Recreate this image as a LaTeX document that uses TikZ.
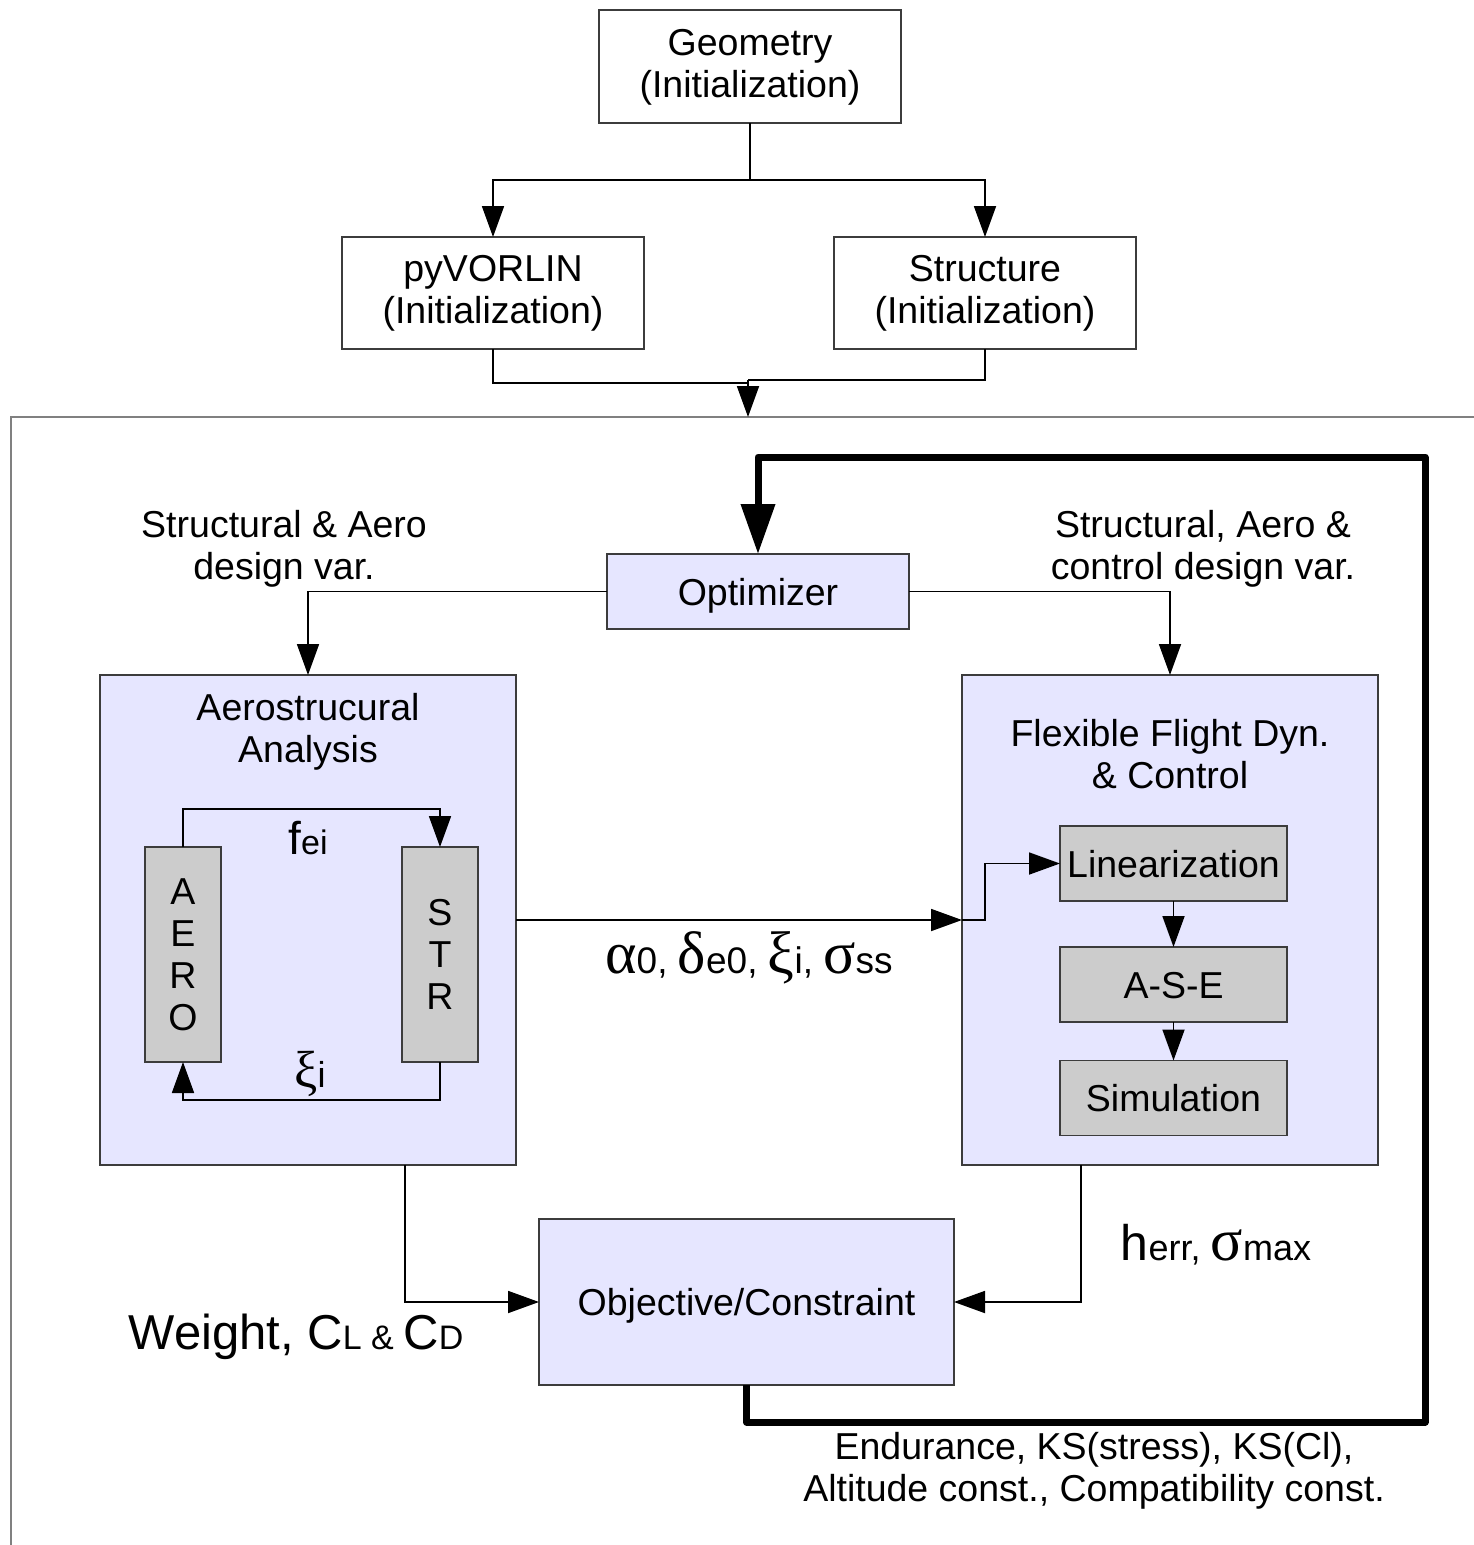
\documentclass[tikz,border=0pt]{standalone}
\usepackage{fontspec}
\setmainfont{Liberation Sans}
\newfontfamily\grk{Liberation Serif}
\usetikzlibrary{arrows.meta}
\definecolor{lav}{RGB}{230,230,255}
\definecolor{gbox}{RGB}{204,204,204}
\definecolor{edge}{RGB}{60,60,60}
\newcommand\fz[1]{\fontsize{#1}{#1}\selectfont}
\begin{document}
\begin{tikzpicture}[x=1pt,y=-1pt,
  every node/.style={font=\fontsize{37.5}{42}\selectfont, inner sep=0pt, outer sep=0pt},
  wbox/.style={draw=edge, line width=1.5pt, fill=white, align=center},
  lbox/.style={draw=edge, line width=1.5pt, fill=lav, align=center},
  gbx/.style={draw=edge, line width=1.5pt, fill=gbox, align=center},
  oneline/.style={text height=27pt, text depth=0pt},
  twoline/.style={text height=61pt, text depth=0pt},
  conn/.style={line width=1.8pt, black},
  arr/.style={conn, -{Triangle[length=31pt,width=22pt]}},
  bigarr/.style={line width=7pt, line join=round, -{Triangle[length=50pt,width=33pt]}},
  txt/.style={align=center}
]
\useasboundingbox (0,0) rectangle (1474,1545);
\fill[white] (0,0) rectangle (1474,1545);

% frame
\coordinate (ftop) at (748,417);
\draw[gray, line width=2pt] (1474,417) -- (11,417) -- (11,1545);

% top boxes
\node[wbox, twoline, minimum width=302pt, minimum height=113pt] (geom) at (750,66.5) {Geometry\\(Initialization)};
\node[wbox, twoline, minimum width=302pt, minimum height=112pt] (pyv) at (493,293) {pyVORLIN\\(Initialization)};
\node[wbox, twoline, minimum width=302pt, minimum height=112pt] (stri) at (985,293) {Structure\\(Initialization)};

\coordinate (j1) at (750,180);
\draw[conn] (geom.south) -- (j1);
\draw[arr] (j1) -| (pyv.north);
\draw[arr] (j1) -| (stri.north);
\coordinate (m1) at (748,383);
\coordinate (m2) at (748,380);
\draw[conn] (pyv.south) |- (m1);
\draw[conn] (stri.south) |- (m2);
\draw[arr] (m2) -- (ftop);

% optimizer
\node[lbox, oneline, minimum width=302pt, minimum height=75pt] (opt) at (758,591.5) {Optimizer};

% analysis boxes
\node[lbox, minimum width=416pt, minimum height=490pt] (aero) at (308,920) {};
\node[txt] (aerot) at (308,732) {Aerostrucural\\Analysis};
\node[lbox, minimum width=416pt, minimum height=490pt] (flex) at (1170,920) {};
\node[txt] (flext) at (1170,754) {Flexible Flight Dyn.\\\& Control};

\node[gbx, minimum width=76pt, minimum height=215pt] (aerob) at (183,954.5) {A\\E\\R\\O};
\node[gbx, minimum width=76pt, minimum height=215pt] (strb) at (440,954.5) {S\\T\\R};

\node[gbx, oneline, minimum width=227pt, minimum height=75pt] (lin) at (1173.5,863.5) {Linearization};
\node[gbx, oneline, minimum width=227pt, minimum height=75pt] (ase) at (1173.5,984.5) {A-S-E};
\node[gbx, oneline, minimum width=227pt, minimum height=75pt] (sim) at (1173.5,1098) {Simulation};

\node[lbox, oneline, minimum width=415pt, minimum height=166pt] (obj) at (746.5,1302) {Objective/Constraint};

% optimizer connectors
\draw[arr] (opt.west) -| (aero.north);
\draw[arr] (opt.east) -| (flex.north);
\node[txt] (l1) at (284,549) {Structural \& Aero\\design var.};
\node[txt] (l2) at (1203,549) {Structural, Aero \&\\control design var.};

% inner loop
\coordinate (fe) at (308,809);
\coordinate (xi) at (308,1100);
\draw[arr] (aerob.north) |- (fe) -| (strb.north);
\draw[arr] (strb.south) |- (xi) -| (aerob.south);
\node (lfe) at (308,838) {\fz{46}f\fz{34}ei};
\node (lxi) at (310,1074) {{\grk\fz{52}ξ}\fz{36}i};

% aero -> flex
\draw[arr] (aero.east) -- (flex.west);
\coordinate (k1) at (985,920);
\draw[arr] (flex.west) -- (k1) |- (lin.west);
\node (lst) at (749,958) {{\grk\fz{60}α}\fz{37}0, {\grk\fz{60}δ}\fz{37}e0, {\grk\fz{60}ξ}\fz{37}i, {\grk\fz{60}σ}\fz{37}ss};

\draw[arr] (lin.south) -- (ase.north);
\draw[arr] (ase.south) -- (sim.north);

% to objective
\coordinate (ab) at (405,1165);
\coordinate (fb) at (1081,1165);
\draw[arr] (ab) |- (obj.west);
\draw[arr] (fb) |- (obj.east);
\node (lw) at (296,1337) {\fz{49}Weight, C\fz{34}L \& \fz{49}C\fz{34}D};
\node (lh) at (1216,1245) {\fz{50}h\fz{36}err, {\grk\fz{60}σ}\fz{36}max};

% feedback loop
\coordinate (lp1) at (1425,1422);
\coordinate (lp2) at (758,457);
\draw[bigarr] (obj.south) |- (lp1) |- (lp2) -- (opt.north);
\node[txt] (lend) at (1094,1471) {Endurance, KS(stress), KS(Cl),\\Altitude const., Compatibility const.};
\end{tikzpicture}
\end{document}
